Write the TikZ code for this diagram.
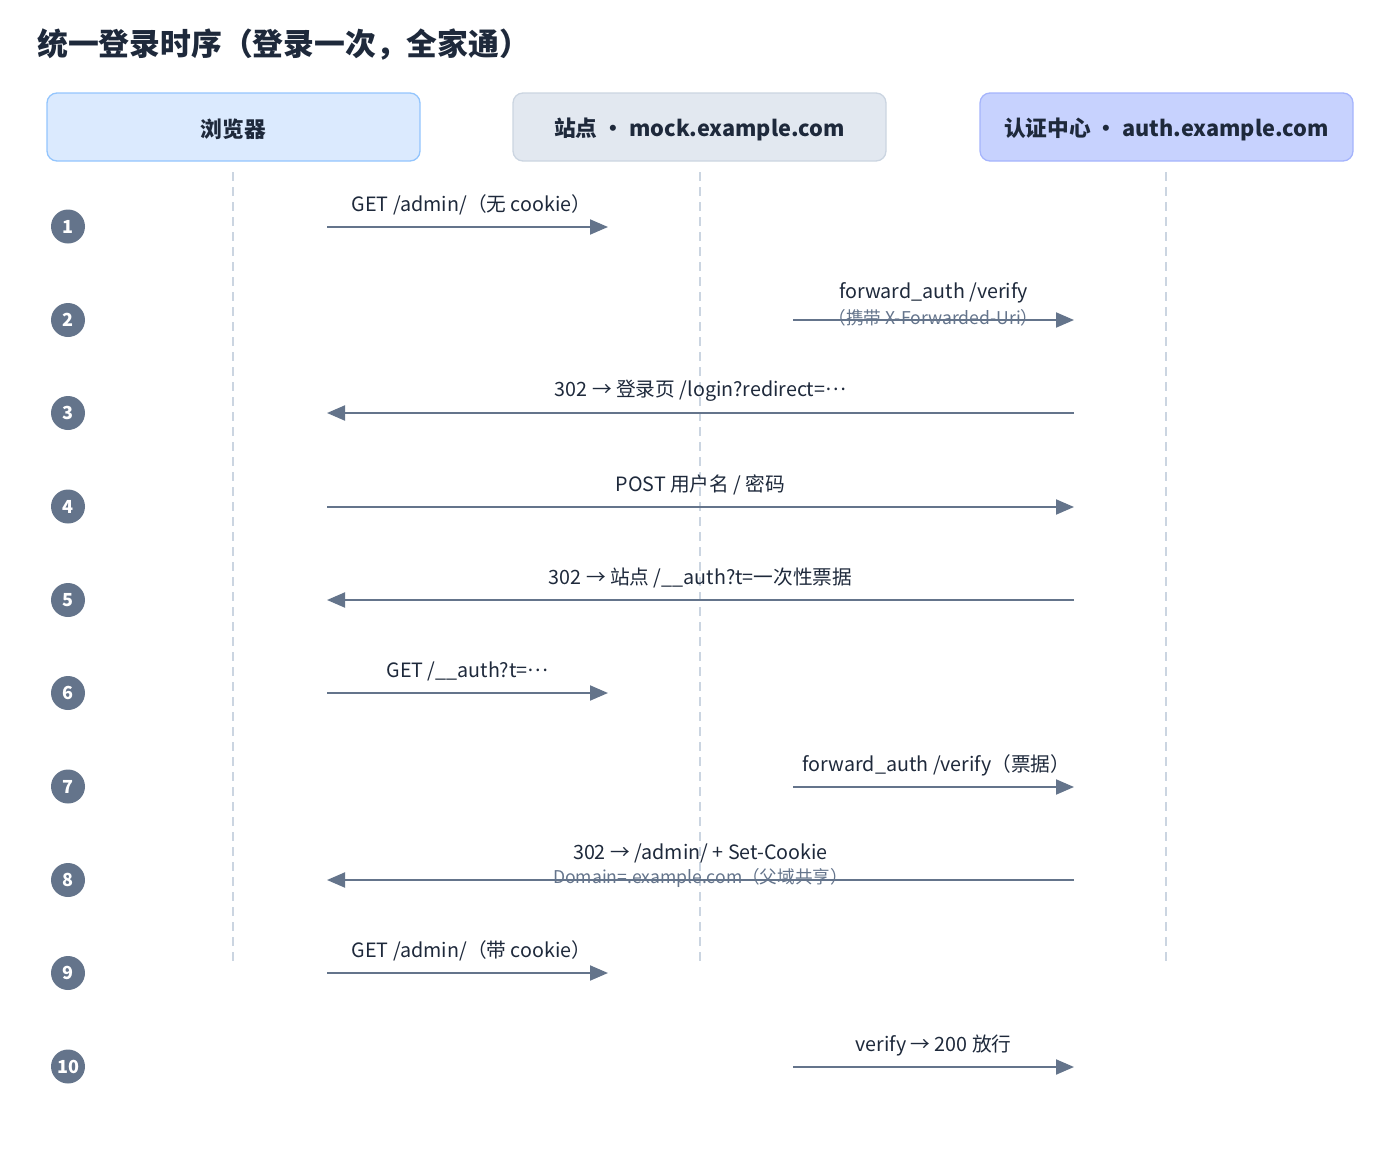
\documentclass[tikz,border=0pt]{standalone}
\usepackage{fontspec}
\setmainfont{Noto Sans CJK SC}
\usetikzlibrary{arrows.meta,calc}
\definecolor{slateA}{HTML}{64748B}
\definecolor{slateD}{HTML}{1E293B}
\definecolor{lifeC}{HTML}{CBD5E1}
\definecolor{brFill}{HTML}{DBEAFE}
\definecolor{brDraw}{HTML}{93C5FD}
\definecolor{stFill}{HTML}{E2E8F0}
\definecolor{stDraw}{HTML}{CBD5E1}
\definecolor{auFill}{HTML}{C7D2FE}
\definecolor{auDraw}{HTML}{A5B4FC}
\newcommand{\mdots}{\raisebox{0.3em}{…}}
\tikzset{
  hdr/.style={rounded corners=10pt, minimum width=373pt, minimum height=68pt, line width=1.3pt, inner sep=0pt},
  hdrtxt/.style={inner sep=0pt, text=slateD, font=\fontsize{21.7}{24}\selectfont\bfseries},
  life/.style={draw=lifeC, line width=1.3pt, dash pattern=on 9pt off 6pt},
  stepno/.style={circle, fill=slateA, minimum size=34pt, inner sep=0pt, text=white, font=\fontsize{18}{20}\selectfont\bfseries},
  msg/.style={draw=slateA, line width=2pt, -{Triangle[length=18pt,width=15pt]}},
  lbl/.style={text=slateD, inner sep=0pt, font=\fontsize{19.7}{22}\selectfont},
  sublbl/.style={text=slateA, inner sep=0pt, font=\fontsize{17.6}{20}\selectfont},
}
\begin{document}
\begin{tikzpicture}[x=1pt,y=-1pt]
\useasboundingbox (0,0) rectangle (1400,1151);
\node[anchor=west, text=slateD, inner sep=0pt, font=\fontsize{30.8}{34}\selectfont\bfseries] (title) at (37,45) {统一登录时序（登录一次，全家通）};
% headers
\node[hdr, fill=brFill, draw=brDraw] (hb) at (233.5,127) {};
\node[hdr, fill=stFill, draw=stDraw] (hs) at (699.5,127) {};
\node[hdr, fill=auFill, draw=auDraw] (ha) at (1166.5,127) {};
\node[hdrtxt] (hbt) at ($(hb.center)+(0,2)$) {浏览器};
\node[hdrtxt] (hst) at ($(hs.center)+(0,2)$) {站点 · mock.example.com};
\node[hdrtxt] (hat) at ($(ha.center)+(0,2)$) {认证中心 · auth.example.com};
% lifelines
\coordinate (lbT) at (233,172); \coordinate (lbB) at (233,963);
\coordinate (lsT) at (700,172); \coordinate (lsB) at (700,963);
\coordinate (laT) at (1166,172); \coordinate (laB) at (1166,963);
\draw[life] (lbT) -- (lbB);
\draw[life] (lsT) -- (lsB);
\draw[life] (laT) -- (laB);
% step numbers
\foreach \i/\y in {1/226.5,2/320,3/413,4/506.5,5/600,6/693,7/786.5,8/880,9/973,10/1066.5}{
  \node[stepno] (n\i) at (68,\y) {\i};
}
% message endpoints
\foreach \i/\y in {1/227,2/320,3/413,4/507,5/600,6/693,7/787,8/880,9/973,10/1067}{
  \coordinate (b\i) at (327,\y);
  \coordinate (sl\i) at (608,\y);
  \coordinate (sr\i) at (793,\y);
  \coordinate (a\i) at (1074,\y);
}
% 1
\draw[msg] (b1) -- (sl1);
\node[lbl] (t1) at ($(b1)!0.5!(sl1)+(4,-22)$) {GET /admin/（无 cookie）};
% 2
\draw[msg] (sr2) -- (a2);
\node[lbl] (t2) at ($(sr2)!0.5!(a2)+(0,-27)$) {forward\_auth /verify};
\node[sublbl] (u2) at ($(sr2)!0.5!(a2)+(0,-2.5)$) {（携带 X-Forwarded-Uri）};
% 3
\draw[msg] (a3) -- (b3);
\node[lbl] (t3) at ($(b3)!0.5!(a3)+(0,-22)$) {302 → 登录页 /login?redirect=\mdots};
% 4
\draw[msg] (b4) -- (a4);
\node[lbl] (t4) at ($(b4)!0.5!(a4)+(0,-22)$) {POST 用户名 / 密码};
% 5
\draw[msg] (a5) -- (b5);
\node[lbl] (t5) at ($(b5)!0.5!(a5)+(0,-22)$) {302 → 站点 /\_\_auth?t=一次性票据};
% 6
\draw[msg] (b6) -- (sl6);
\node[lbl] (t6) at ($(b6)!0.5!(sl6)+(0,-22)$) {GET /\_\_auth?t=\mdots};
% 7
\draw[msg] (sr7) -- (a7);
\node[lbl] (t7) at ($(sr7)!0.5!(a7)+(3,-22)$) {forward\_auth /verify（票据）};
% 8
\draw[msg] (a8) -- (b8);
\node[lbl] (t8) at ($(b8)!0.5!(a8)+(0,-27)$) {302 → /admin/ + Set-Cookie};
\node[sublbl] (u8) at ($(b8)!0.5!(a8)+(0,-2.5)$) {Domain=.example.com（父域共享）};
% 9
\draw[msg] (b9) -- (sl9);
\node[lbl] (t9) at ($(b9)!0.5!(sl9)+(4,-22)$) {GET /admin/（带 cookie）};
% 10
\draw[msg] (sr10) -- (a10);
\node[lbl] (t10) at ($(sr10)!0.5!(a10)+(0,-22)$) {verify → 200 放行};
\end{tikzpicture}
\end{document}
